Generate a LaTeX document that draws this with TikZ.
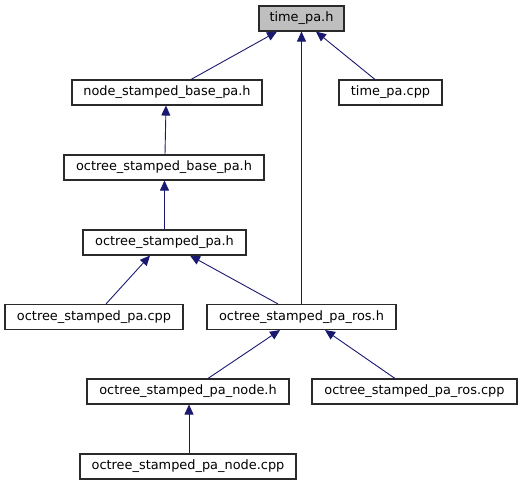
\documentclass[tikz,border=0pt]{standalone}
\usepackage{fontspec}
\setmainfont{DejaVu Sans}
\usetikzlibrary{arrows.meta}
\definecolor{edgecol}{HTML}{191970}
\definecolor{boxline}{HTML}{2A2A2A}
\definecolor{curfill}{HTML}{BFBFBF}
\tikzset{
  filebox/.style={draw=boxline, line width=1.1pt, fill=white, minimum height=25pt, inner sep=0pt, font=\fontsize{12.9}{15}\selectfont},
  dep/.style={draw=edgecol, line width=0.9pt, -{Triangle[length=10pt,width=9pt]}, shorten >=0pt}
}
\begin{document}
\begin{tikzpicture}[x=1pt,y=-1pt]
\useasboundingbox (0,0) rectangle (523,485);
\node[filebox, fill=curfill, minimum width=85pt] (time) at (301.5,18.5) {time\_pa.h};
\node[filebox, minimum width=190pt] (nsb) at (167,92.5) {node\_stamped\_base\_pa.h};
\node[filebox, minimum width=103pt] (tpc) at (390.5,92.5) {time\_pa.cpp};
\node[filebox, minimum width=200pt] (osb) at (164,167.5) {octree\_stamped\_base\_pa.h};
\node[filebox, minimum width=163pt] (osp) at (164.5,242.5) {octree\_stamped\_pa.h};
\node[filebox, minimum width=178pt] (ospcpp) at (94,317) {octree\_stamped\_pa.cpp};
\node[filebox, minimum width=189pt] (ros) at (301.5,317) {octree\_stamped\_pa\_ros.h};
\node[filebox, minimum width=202pt] (nodeh) at (188,391.5) {octree\_stamped\_pa\_node.h};
\node[filebox, minimum width=205pt] (roscpp) at (414.5,391.5) {octree\_stamped\_pa\_ros.cpp};
\node[filebox, minimum width=216pt] (nodecpp) at (188,466.5) {octree\_stamped\_pa\_node.cpp};

\draw[dep] ([xshift=24pt]nsb.north) -- ([xshift=-24.5pt]time.south);
\draw[dep] (ros.north) -- (time.south);
\draw[dep] ([xshift=-15.5pt]tpc.north) -- ([xshift=14.5pt]time.south);
\draw[dep] ([xshift=1pt]osb.north) -- ([xshift=-1pt]nsb.south);
\draw[dep] (osp.north) -- ([xshift=0.5pt]osb.south);
\draw[dep] ([xshift=12pt]ospcpp.north) -- ([xshift=-14.5pt]osp.south);
\draw[dep] ([xshift=-23.5pt]ros.north) -- ([xshift=25.5pt]osp.south);
\draw[dep] ([xshift=20pt]nodeh.north) -- ([xshift=-21.5pt]ros.south);
\draw[dep] ([xshift=-19.5pt]roscpp.north) -- ([xshift=23.5pt]ros.south);
\draw[dep] ([xshift=1pt]nodecpp.north) -- ([xshift=1pt]nodeh.south);
\end{tikzpicture}
\end{document}
